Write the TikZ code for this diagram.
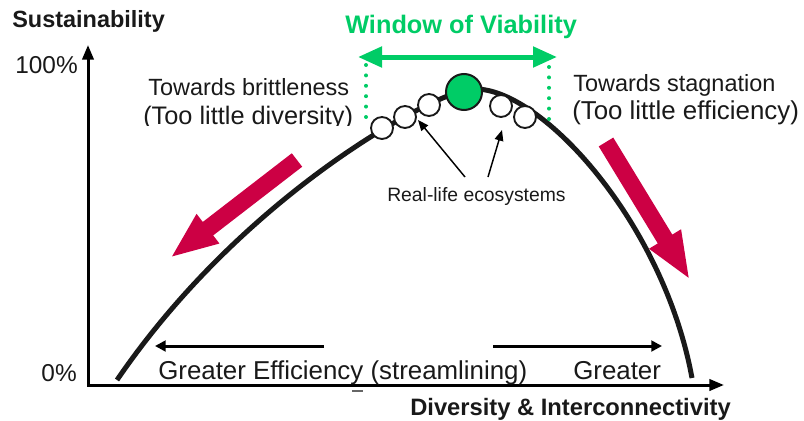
\documentclass[tikz,border=0pt]{standalone}
\usepackage{fontspec}
\setmainfont{Liberation Sans}
\usetikzlibrary{arrows.meta}
\definecolor{vgreen}{RGB}{0,204,102}
\definecolor{pushred}{RGB}{204,0,68}
\definecolor{ink}{RGB}{25,25,25}
\begin{document}
\begin{tikzpicture}[x=0.75pt,y=-0.75pt,
  txt/.style={inner sep=0pt, anchor=base west, text=ink},
  axis/.style={line width=2.25pt, line join=miter},
  hint/.style={line width=2.25pt, -{Triangle[length=8pt,width=8pt]}},
  pointer/.style={line width=1.1pt, -{Triangle[length=8pt,width=6.5pt]}},
  push/.style={pushred, line width=12.75pt, line cap=butt, -{Triangle[length=36pt,width=25pt]}},
  eco/.style={circle, draw=ink, line width=1.4pt, fill=white, minimum size=16.5pt, inner sep=0pt},
  ideal/.style={circle, draw=ink, line width=1.5pt, fill=vgreen, minimum size=27pt, inner sep=0pt},
  bound/.style={vgreen, line width=3pt, line cap=round, dash pattern=on 0pt off 7.8pt},
  win/.style={vgreen, line width=3.75pt, {Triangle[length=18pt,width=15pt]}-{Triangle[length=18pt,width=15pt]}}
]
\useasboundingbox (0,0) rectangle (804,421);

% axes
\coordinate (origin) at (88,385);
\coordinate (ytop) at (88,45);
\coordinate (xend) at (724,385);
\draw[axis, {Triangle[length=11pt,width=8.5pt]}-{Triangle[length=11pt,width=8.5pt]}] (ytop) -- (origin) -- (xend);

% axis labels
\node[txt, font=\bfseries\fontsize{17.6}{20}\selectfont] (ylab) at (12,27) {Sustainability};
\node[txt, font=\bfseries\fontsize{17.8}{20}\selectfont] (xlab) at (410,415) {Diversity \& Interconnectivity};
\node[txt, anchor=base east, font=\fontsize{18.3}{20}\selectfont] (top) at (78,73) {100\%};
\node[txt, anchor=base east, font=\fontsize{18.3}{20}\selectfont] (zero) at (77,381) {0\%};
\draw[gray!80!black, line width=1.5pt] (352,391) -- (363,391);

% sustainability curve
\coordinate (c0) at (117,380);
\coordinate (cpk) at (466,90);
\coordinate (c1) at (692,378);
\draw[ink, line width=3.75pt] (c0) .. controls (240,200) and (420,100) .. (cpk)
  .. controls (530,76) and (662,215) .. (c1);

% window of viability
\coordinate (wl) at (358,57);
\coordinate (wr) at (557,57);
\draw[win] (wl) -- (wr);
\coordinate (bl1) at (366,65);
\coordinate (bl2) at (366,118);
\coordinate (br1) at (549,67);
\coordinate (br2) at (549,122);
\draw[bound] (bl1) -- (bl2);
\draw[bound] (br1) -- (br2);
\node[txt, text=vgreen, font=\bfseries\fontsize{19}{22}\selectfont] (win) at (345,33) {Window of Viability};

% ecosystems along the curve
\node[eco] (e1) at (382,128) {};
\node[eco] (e2) at (405,117) {};
\node[eco] (e3) at (429,105) {};
\node[ideal] (g) at (464,92) {};
\node[eco] (e4) at (501,106) {};
\node[eco] (e5) at (525,117) {};

% side labels
\node[txt, font=\fontsize{17.6}{20}\selectfont] (brit) at (148,95) {Towards brittleness};
\begin{scope}
  \clip (100,98) rectangle (362,125.5);
  \node[txt, font=\fontsize{19}{22}\selectfont] (brit2) at (143,124) {(Too little diversity)};
\end{scope}
\node[txt, font=\fontsize{17.6}{20}\selectfont] (stag) at (573,91) {Towards stagnation};
\node[txt, font=\fontsize{19.4}{22}\selectfont] (stag2) at (572,119) {(Too little efficiency)};

% real-life ecosystems pointers
\node[txt, font=\fontsize{14.5}{16}\selectfont] (real) at (387,201) {Real-life ecosystems};
\coordinate (pl0) at (465,177);
\coordinate (pl1) at (418,120);
\coordinate (pr0) at (488,177);
\coordinate (pr1) at (502,130);
\draw[pointer] (pl0) -- (pl1);
\draw[pointer] (pr0) -- (pr1);

% red drift arrows
\coordinate (ra0) at (297,160);
\coordinate (ra1) at (170,258);
\coordinate (rb0) at (606,142);
\coordinate (rb1) at (690,280);
\draw[push] (ra0) -- (ra1);
\draw[push] (rb0) -- (rb1);

% bottom direction hints
\coordinate (hl0) at (324,346);
\coordinate (hl1) at (155,346);
\coordinate (hr0) at (493,346);
\coordinate (hr1) at (662,346);
\draw[hint] (hl0) -- (hl1);
\draw[hint] (hr0) -- (hr1);
\node[txt, font=\fontsize{19.4}{22}\selectfont] (eff) at (158,379) {Greater Efficiency (streamlining)};
\node[txt, font=\fontsize{19.4}{22}\selectfont] (grt) at (573,379) {Greater};
\end{tikzpicture}
\end{document}
